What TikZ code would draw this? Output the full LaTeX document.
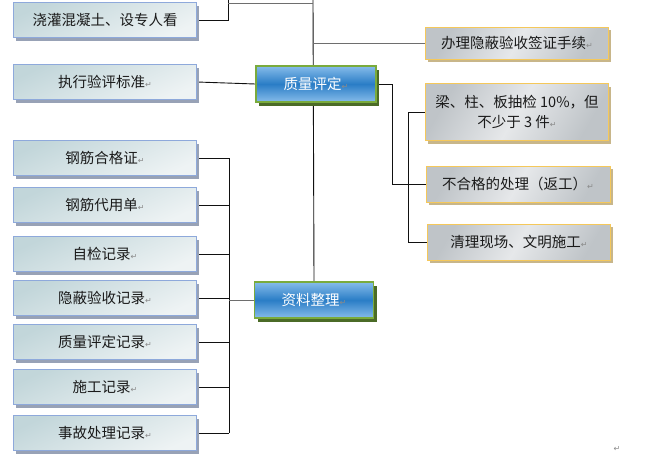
\documentclass[tikz,border=0pt]{standalone}
\usepackage{fontspec}
\setmainfont{Noto Sans CJK SC}
\newfontfamily\markfont{DejaVu Sans}
\usepackage{xcolor}
\usetikzlibrary{shadows,backgrounds}
\definecolor{bg}{HTML}{FFFFFF}
\definecolor{text}{HTML}{1A1A1A}
\definecolor{markgray}{HTML}{8A8A8A}
\definecolor{leftline}{HTML}{8EA9DB}
\definecolor{leftdark}{HTML}{C2D6DA}
\definecolor{leftlight}{HTML}{EEF3F4}
\definecolor{leftshadow}{HTML}{98A2B6}
\definecolor{goldline}{HTML}{F5C85A}
\definecolor{graymid}{HTML}{BFC4C8}
\definecolor{graylight}{HTML}{E6E8EA}
\definecolor{tanshadow}{HTML}{C8B68A}
\definecolor{bluedark}{HTML}{2A7DC6}
\definecolor{bluelight}{HTML}{86BCEA}
\definecolor{greenline}{HTML}{7AAB3C}
\definecolor{greenshadow}{HTML}{4B6B27}
\definecolor{wire}{HTML}{111111}
\definecolor{wiregray}{HTML}{6E6E6E}
\newcommand{\retmark}{{\markfont\color{markgray}\fontsize{8}{8}\selectfont ↵}}
\tikzset{
  leftbox/.style={draw=leftline, line width=1pt, minimum width=183pt, minimum height=35pt,
    inner sep=0pt, text=text, font=\fontsize{14.5}{18}\selectfont,
    top color=leftdark, bottom color=leftlight, shading angle=25,
    general shadow={fill=leftshadow, shadow xshift=2.5pt, shadow yshift=-3pt}},
  rightbox/.style={draw=goldline, line width=1pt, minimum width=183pt, minimum height=34pt,
    inner sep=0pt, text=text, font=\fontsize{14.5}{20}\selectfont, align=center,
    left color=graymid, right color=graymid, middle color=graylight, shading angle=60,
    general shadow={fill=tanshadow, shadow xshift=2.5pt, shadow yshift=-3pt}},
  bluebox/.style={draw=greenline, line width=1.2pt, minimum width=120pt, minimum height=36pt,
    inner sep=0pt, text=white, font=\fontsize{14.5}{18}\selectfont,
    top color=bluelight, bottom color=bluelight, middle color=bluedark,
    general shadow={fill=greenshadow, shadow xshift=3pt, shadow yshift=-4pt}},
  wireline/.style={draw=wire, line width=0.9pt},
  wirelight/.style={draw=wiregray, line width=0.9pt},
}
\begin{document}
\begin{tikzpicture}[x=1pt,y=-1pt]
  \useasboundingbox (0,0) rectangle (650,458);
  \coordinate (trunk) at (313,0);
  \coordinate (bus) at (229,0);
  \coordinate (split1) at (392,0);
  \coordinate (split2) at (408,0);

  % left column
  \node[leftbox] (pour) at (105,20) {浇灌混凝土、设专人看};
  \node[leftbox] (standard) at (105,82) {执行验评标准\retmark};
  \node[leftbox] (cert) at (105,158) {钢筋合格证\retmark};
  \node[leftbox] (subst) at (105,205) {钢筋代用单\retmark};
  \node[leftbox] (selfcheck) at (105,254) {自检记录\retmark};
  \node[leftbox] (hidden) at (105,298) {隐蔽验收记录\retmark};
  \node[leftbox] (rating) at (105,342) {质量评定记录\retmark};
  \node[leftbox] (work) at (105,387) {施工记录\retmark};
  \node[leftbox] (accident) at (105,433) {事故处理记录\retmark};

  % middle
  \node[bluebox] (quality) at (316,84) {质量评定\retmark};
  \node[bluebox, minimum width=119pt] (data) at (314,300) {资料整理\retmark};

  % right column
  \node[rightbox, minimum height=32pt] (sign) at (517,43) {办理隐蔽验收签证手续\retmark};
  \node[rightbox, minimum height=57pt] (sample) at (517,112) {梁、柱、板抽检 10\%，但\\不少于 3 件\retmark};
  \node[rightbox, minimum height=36pt, minimum width=184pt] (reject) at (518,184) {不合格的处理（返工）\retmark};
  \node[rightbox, minimum height=36pt] (clean) at (519,242) {清理现场、文明施工\retmark};

  \node (endmark) at (617,449) {\retmark};

  % connectors, behind the boxes
  \begin{pgfonlayer}{background}
    \fill[bg] (0,0) rectangle (650,458);
    \draw[wireline] (trunk) -- (data.north);
    \draw[wireline] (pour.east) -| (228,0);
    \draw[wirelight] (228,3) -- (313,3);
    \draw[wirelight] (sign.west -| trunk) -- (sign.west);
    \draw[wireline] (standard.east) -- (quality.west);
    \draw[wireline] (quality.east) -- (quality.east -| split1) |- (reject.west);
    \draw[wireline] (sample.west) -- (sample.west -| split2) |- (clean.west);
    \draw[wireline] (cert.east -| bus) -- (accident.east -| bus);
    \foreach \b in {cert,subst,selfcheck,hidden,rating,work,accident}
      \draw[wireline] (\b.east) -- (\b.east -| bus);
    \draw[wirelight] (data.west -| bus) -- (data.west);
  \end{pgfonlayer}
\end{tikzpicture}
\end{document}
